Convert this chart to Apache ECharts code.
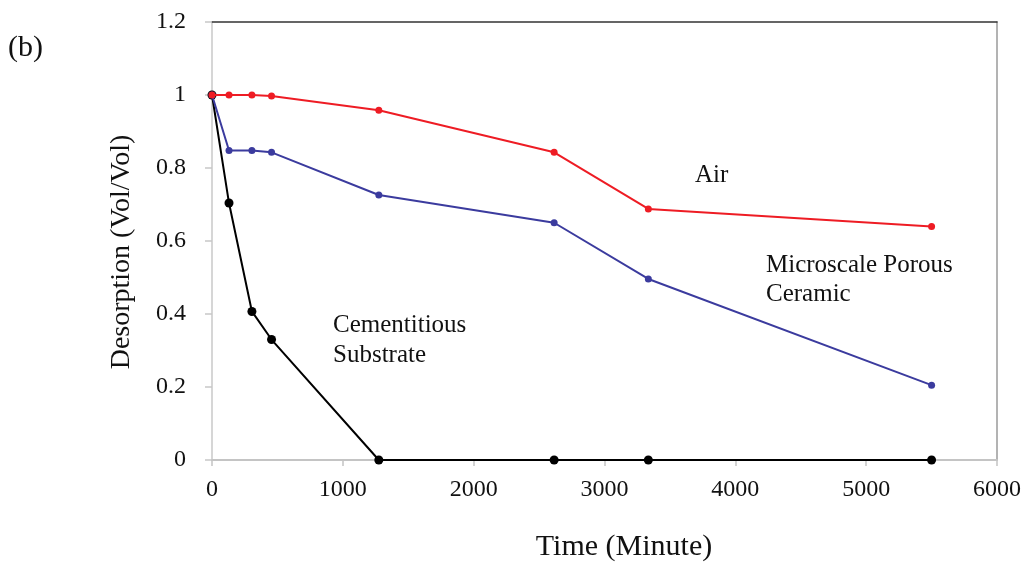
<!DOCTYPE html>
<html>
<head>
<meta charset="utf-8">
<script src="https://cdn.jsdelivr.net/npm/echarts@6/dist/echarts.min.js"></script>
<style>
  html, body { margin: 0; padding: 0; background: #fff; }
  #chart { width: 1027px; height: 565px; }
</style>
</head>
<body>
<div id="chart"></div>
<script>
// Sampling times (minutes)
const timeMinutes = [0, 130, 305, 455, 1275, 2615, 3335, 5500];

// Desorption fractions (Vol/Vol) for each medium
const airValues = [1.0, 1.0, 1.0, 0.997, 0.958, 0.843, 0.688, 0.640];
const ceramicValues = [1.0, 0.848, 0.848, 0.843, 0.726, 0.650, 0.496, 0.205];
const cementValues = [1.0, 0.704, 0.407, 0.330, 0.0, 0.0, 0.0, 0.0];

const xTicks = [0, 1000, 2000, 3000, 4000, 5000, 6000];
const yTicks = [0, 0.2, 0.4, 0.6, 0.8, 1, 1.2];

const FONT = '"Liberation Serif", "DejaVu Serif", serif';

function pairs(vals) {
  return timeMinutes.map((t, i) => [t, vals[i]]);
}

const chart = echarts.init(document.getElementById('chart'), null, { renderer: 'canvas' });

chart.setOption({
  backgroundColor: '#ffffff',
  animation: false,
  grid: { left: 212, right: 30, top: 22, bottom: 105 },
  xAxis: [
    {
      type: 'value',
      min: xTicks[0],
      max: xTicks[xTicks.length - 1],
      interval: 1000,
      axisLine: { show: true, onZero: false, lineStyle: { color: '#c4c4c4', width: 2 } },
      axisTick: { show: true, length: 6, lineStyle: { color: '#c4c4c4', width: 1.5 } },
      axisLabel: { fontFamily: FONT, fontSize: 24, color: '#111', margin: 18, formatter: v => String(v) },
      splitLine: { show: false }
    },
    {
      // top frame edge
      type: 'value',
      position: 'top',
      min: xTicks[0],
      max: xTicks[xTicks.length - 1],
      axisLine: { show: true, onZero: false, lineStyle: { color: '#333', width: 1.5 } },
      axisTick: { show: false },
      axisLabel: { show: false },
      splitLine: { show: false }
    }
  ],
  yAxis: [
    {
      type: 'value',
      min: yTicks[0],
      max: yTicks[yTicks.length - 1],
      interval: 0.2,
      axisLine: { show: true, onZero: false, lineStyle: { color: '#c8c8c8', width: 1.5 } },
      axisTick: { show: true, length: 7, lineStyle: { color: '#c8c8c8', width: 1.5 } },
      axisLabel: {
        fontFamily: FONT, fontSize: 24, color: '#111', margin: 26,
        formatter: v => (Math.round(v * 10) / 10).toString()
      },
      splitLine: { show: false }
    },
    {
      // right frame edge
      type: 'value',
      position: 'right',
      min: yTicks[0],
      max: yTicks[yTicks.length - 1],
      axisLine: { show: true, onZero: false, lineStyle: { color: '#9a9a9a', width: 1.5 } },
      axisTick: { show: false },
      axisLabel: { show: false },
      splitLine: { show: false }
    }
  ],
  series: [
    {
      name: 'Cementitious Substrate',
      type: 'line',
      data: pairs(cementValues),
      symbol: 'circle',
      symbolSize: 9,
      z: 3,
      lineStyle: { color: '#000000', width: 2 },
      itemStyle: { color: '#000000' }
    },
    {
      name: 'Microscale Porous Ceramic',
      type: 'line',
      data: pairs(ceramicValues),
      symbol: 'circle',
      symbolSize: 7,
      z: 4,
      lineStyle: { color: '#3b3b9e', width: 2 },
      itemStyle: { color: '#3b3b9e' }
    },
    {
      name: 'Air',
      type: 'line',
      data: pairs(airValues),
      symbol: 'circle',
      symbolSize: 7,
      z: 5,
      lineStyle: { color: '#ee1c24', width: 2 },
      itemStyle: { color: '#ee1c24' }
    }
  ],
  graphic: [
    { type: 'text', left: 8, top: 33, style: { text: '(b)', font: '30px ' + FONT, fill: '#111' } },
    // axis titles
    { type: 'text', x: 624, y: 547, style: { text: 'Time (Minute)', font: '30px ' + FONT, fill: '#111', align: 'center', verticalAlign: 'middle' } },
    { type: 'text', x: 122, y: 252, rotation: Math.PI / 2, style: { text: 'Desorption (Vol/Vol)', font: '28px ' + FONT, fill: '#111', align: 'center', verticalAlign: 'middle' } },
    // series annotations
    { type: 'text', left: 695, top: 163, style: { text: 'Air', font: '25px ' + FONT, fill: '#111' } },
    { type: 'text', left: 766, top: 251, style: { text: 'Microscale Porous\nCeramic', font: '25px ' + FONT, lineHeight: 29, fill: '#111' } },
    { type: 'text', left: 333, top: 310, style: { text: 'Cementitious\nSubstrate', font: '25px ' + FONT, lineHeight: 30, fill: '#111' } }
  ]
});
</script>
</body>
</html>
